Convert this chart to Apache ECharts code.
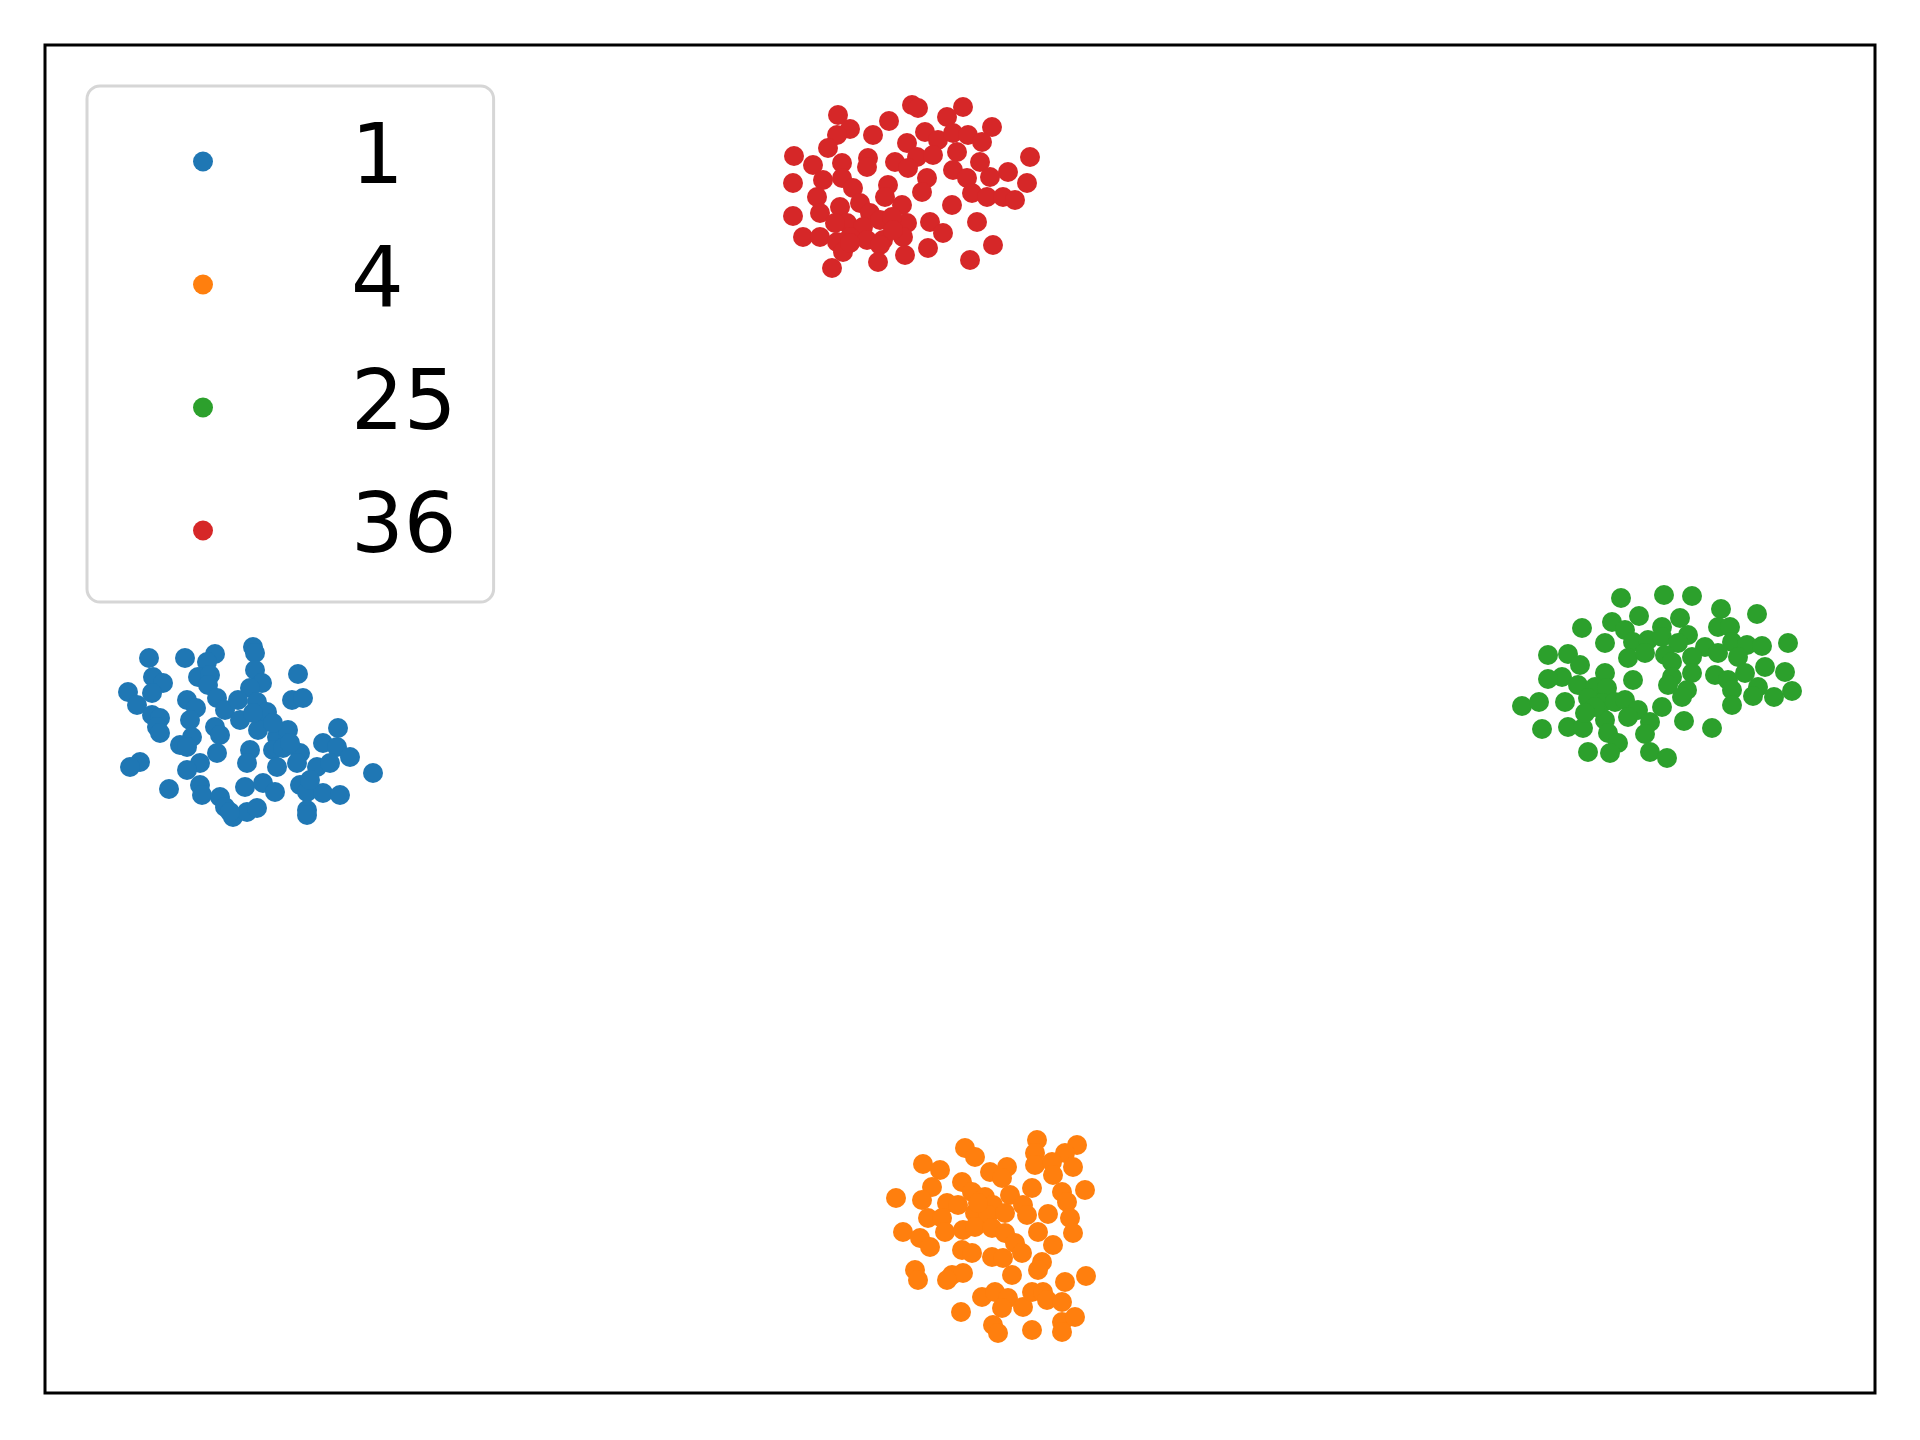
<!DOCTYPE html>
<html>
<head>
<meta charset="utf-8">
<script src="https://cdn.jsdelivr.net/npm/echarts@6/dist/echarts.min.js"></script>
<style>
  html, body { margin: 0; padding: 0; background: #fff; }
  #chart { width: 1920px; height: 1440px; }
</style>
</head>
<body>
<div id="chart"></div>
<script>
// cluster labels shown in the legend
const labels = ['1', '4', '25', '36'];
const colors = ['#1f77b4', '#ff7f0e', '#2ca02c', '#d62728'];

// embedded points per cluster (arbitrary units, x 0..1830, y 0..1348)
const pts1 = [
  [104, 735], [140, 735], [170, 739], [162, 731], [208, 746], [210, 740], [108, 716], [118, 710],
  [107, 700], [153, 716], [165, 718], [163, 708], [210, 723], [217, 710], [205, 705], [253, 719],
  [83, 701], [92, 688], [107, 678], [115, 675], [112, 666], [115, 660], [142, 693], [151, 685],
  [145, 673], [172, 695], [180, 683], [193, 693], [195, 673], [212, 691], [222, 673], [213, 663],
  [247, 693], [258, 695], [170, 666], [175, 658], [147, 656], [135, 648], [142, 646], [232, 656],
  [243, 663], [293, 665], [205, 643], [202, 630], [228, 643], [238, 645], [255, 640], [252, 630],
  [232, 626], [278, 650], [292, 646], [305, 636], [272, 626], [285, 630], [172, 640], [155, 630],
  [142, 623], [95, 631], [85, 626], [124, 604], [155, 608], [157, 598], [175, 596], [180, 586],
  [188, 576], [202, 581], [212, 585], [200, 606], [218, 610], [230, 601], [255, 608], [262, 601],
  [262, 583], [278, 600], [295, 598], [328, 620], [265, 613], [262, 578], [185, 581], [222, 681],
  [228, 670], [245, 650], [208, 680]
];
const pts4 = [
  [992, 253], [1032, 248], [920, 245], [930, 236], [990, 240], [1020, 240], [878, 229], [895, 223],
  [945, 221], [962, 226], [990, 228], [1007, 231], [1028, 226], [1008, 218], [917, 211], [957, 215],
  [887, 206], [877, 193], [851, 195], [987, 205], [1017, 201], [1040, 203], [965, 198], [927, 201],
  [940, 196], [902, 190], [913, 188], [948, 188], [1022, 191], [978, 188], [883, 175], [897, 175],
  [930, 180], [943, 178], [960, 180], [982, 178], [1003, 179], [1025, 175], [858, 161], [875, 155],
  [885, 146], [900, 161], [918, 163], [930, 166], [947, 165], [960, 160], [993, 161], [1028, 160],
  [970, 150], [1008, 148], [917, 143], [927, 140], [947, 136], [958, 135], [977, 140], [997, 131],
  [993, 123], [870, 123], [873, 113], [907, 118], [918, 120], [967, 118], [1020, 111], [1041, 117],
  [937, 96], [950, 101], [963, 95], [978, 86], [987, 101], [998, 101], [1002, 93], [1017, 91],
  [957, 85], [916, 81], [948, 68], [953, 60], [987, 63], [1017, 71], [1030, 76], [1017, 61],
  [902, 113], [933, 190]
];
const pts25 = [
  [1576, 795], [1619, 798], [1647, 797], [1676, 784], [1712, 779], [1594, 777], [1567, 771], [1635, 775],
  [1537, 765], [1580, 763], [1617, 766], [1673, 766], [1685, 766], [1560, 750], [1588, 751], [1603, 753],
  [1617, 756], [1643, 758], [1633, 750], [1660, 746], [1687, 751], [1702, 748], [1717, 747], [1743, 750],
  [1503, 738], [1523, 739], [1535, 728], [1583, 735], [1600, 740], [1620, 738], [1627, 731], [1647, 736],
  [1673, 740], [1693, 736], [1517, 716], [1503, 714], [1560, 720], [1588, 713], [1627, 716], [1647, 720],
  [1670, 718], [1683, 713], [1700, 720], [1720, 726], [1740, 721], [1623, 708], [1642, 703], [1533, 708],
  [1550, 706], [1562, 705], [1687, 703], [1713, 706], [1708, 697], [1729, 696], [1747, 702], [1477, 687],
  [1494, 691], [1520, 691], [1543, 695], [1557, 690], [1570, 691], [1580, 693], [1593, 683], [1617, 686],
  [1637, 696], [1687, 688], [1583, 676], [1605, 671], [1639, 672], [1667, 665], [1497, 664], [1523, 666],
  [1538, 665], [1560, 673], [1563, 660], [1573, 650], [1600, 659], [1543, 641], [1565, 640], [1605, 641],
  [1622, 635], [1550, 686], [1540, 680]
];
const pts36 = [
  [867, 1288], [873, 1285], [918, 1286], [902, 1276], [793, 1278], [844, 1272], [805, 1264], [792, 1258],
  [947, 1266], [828, 1258], [880, 1261], [893, 1253], [908, 1260], [923, 1258], [937, 1251], [783, 1245],
  [749, 1237], [862, 1250], [872, 1236], [850, 1231], [863, 1225], [888, 1238], [823, 1235], [822, 1226],
  [912, 1241], [935, 1231], [908, 1223], [985, 1236], [768, 1228], [797, 1230], [748, 1210], [778, 1213],
  [797, 1215], [808, 1205], [882, 1215], [877, 1201], [922, 1215], [945, 1216], [963, 1221], [982, 1210],
  [772, 1196], [843, 1208], [840, 1196], [927, 1200], [942, 1196], [958, 1196], [970, 1193], [907, 1188],
  [748, 1177], [775, 1180], [795, 1186], [815, 1190], [825, 1180], [857, 1188], [862, 1170], [802, 1170],
  [818, 1166], [835, 1173], [847, 1176], [885, 1171], [898, 1160], [932, 1171], [758, 1156], [775, 1156],
  [792, 1151], [805, 1156], [822, 1153], [838, 1153], [858, 1156], [798, 1141], [835, 1148], [883, 1145],
  [948, 1148], [833, 1131], [860, 1138], [925, 1133], [787, 1125], [805, 1150], [790, 1170], [848, 1163]
];
const clusters = [pts1, pts4, pts25, pts36];

const chart = echarts.init(document.getElementById('chart'));
const option = {
  animation: false,
  backgroundColor: '#fff',
  grid: {
    left: 45, top: 45, width: 1830, height: 1348,
    show: true,
    borderColor: '#000',
    borderWidth: 3,
    backgroundColor: 'transparent'
  },
  xAxis: {
    type: 'value', min: 0, max: 1830,
    axisLine: { show: false }, axisTick: { show: false },
    axisLabel: { show: false }, splitLine: { show: false }
  },
  yAxis: {
    type: 'value', min: 0, max: 1348,
    axisLine: { show: false }, axisTick: { show: false },
    axisLabel: { show: false }, splitLine: { show: false }
  },
  legend: {
    orient: 'vertical',
    left: 87, top: 86,
    padding: [34, 37, 30, 106],
    itemGap: 40,
    itemWidth: 20, itemHeight: 20,
    icon: 'circle',
    backgroundColor: '#fff',
    borderColor: '#d6d6d6',
    borderWidth: 3,
    borderRadius: 13,
    data: labels,
    textStyle: {
      fontFamily: 'DejaVu Sans',
      fontSize: 83,
      lineHeight: 83,
      color: '#000',
      padding: [0, 0, 0, 133]
    }
  },
  series: clusters.map((pts, i) => ({
    name: labels[i],
    type: 'scatter',
    symbolSize: 20,
    itemStyle: { color: colors[i], opacity: 1 },
    data: pts
  }))
};
chart.setOption(option);
</script>
</body>
</html>
